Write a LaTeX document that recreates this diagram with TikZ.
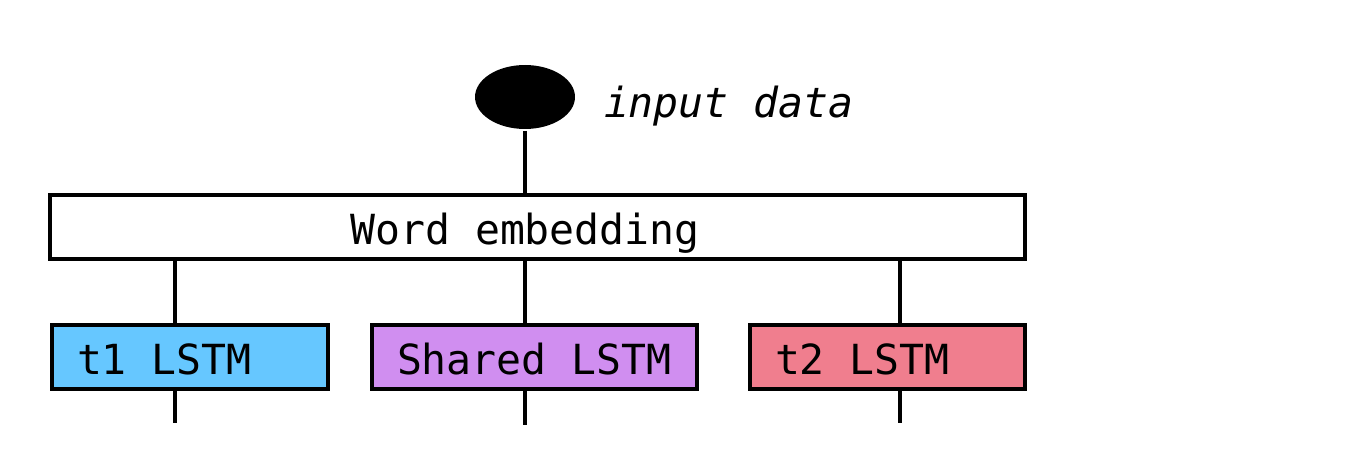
\documentclass[tikz,border=0pt]{standalone}
\usepackage{fontspec}
\setmonofont{DejaVu Sans Mono}
\usetikzlibrary{shapes.geometric, positioning}
\definecolor{lstmblue}{HTML}{66C7FF}
\definecolor{lstmpurple}{HTML}{D08EF0}
\definecolor{lstmpink}{HTML}{F07E8E}

\begin{document}
\begin{tikzpicture}[x=0.02cm, y=-0.02cm, line width=0.08cm]
\tikzstyle{layer} = [rectangle, draw=black, minimum height=1.28cm, inner xsep=0.5cm, text height=0.72cm, text depth=0cm, align=left, execute at begin node={\spaceskip=0pt\xspaceskip=0pt\relax}, font=\ttfamily\fontsize{23.6}{28}\selectfont]
\tikzstyle{layertext} = [inner sep=0, text height=0.72cm, text depth=0cm, font=\ttfamily\fontsize{23.6}{28}\selectfont]

\useasboundingbox (0,0) rectangle (1350,455);

\node (input) [ellipse, fill=black, minimum width=2cm, minimum height=1.28cm, inner sep=0] at (525,97) {};
\node (inputlabel) [anchor=base west, inner sep=0, font=\ttfamily\itshape\fontsize{23.6}{28}\selectfont] at (602,118) {input data};

\node (embed) [layer, minimum width=19.5cm] at (537.5,227) {};
\node (embedlabel) [layertext] at (525,227) {Word embedding};

\node (t1) [layer, fill=lstmblue, text width=4.52cm] at (190,357) {t1 LSTM};
\node (shared) [layer, fill=lstmpurple, text width=5.5cm] at (534.5,357) {Shared LSTM};
\node (t2) [layer, fill=lstmpink, text width=4.5cm] at (887.5,357) {t2 LSTM};

% Draw connections
\draw (input) -- (input |- embed.north);
\foreach \name/\x/\y in {t1/175/423, shared/525/425, t2/900/423} {
    \coordinate (\name-out) at (\x,\y);
    \draw (\name-out |- embed.south) -- (\name-out |- \name.north);
    \draw (\name-out |- \name.south) -- (\name-out);
}

\end{tikzpicture}
\end{document}
